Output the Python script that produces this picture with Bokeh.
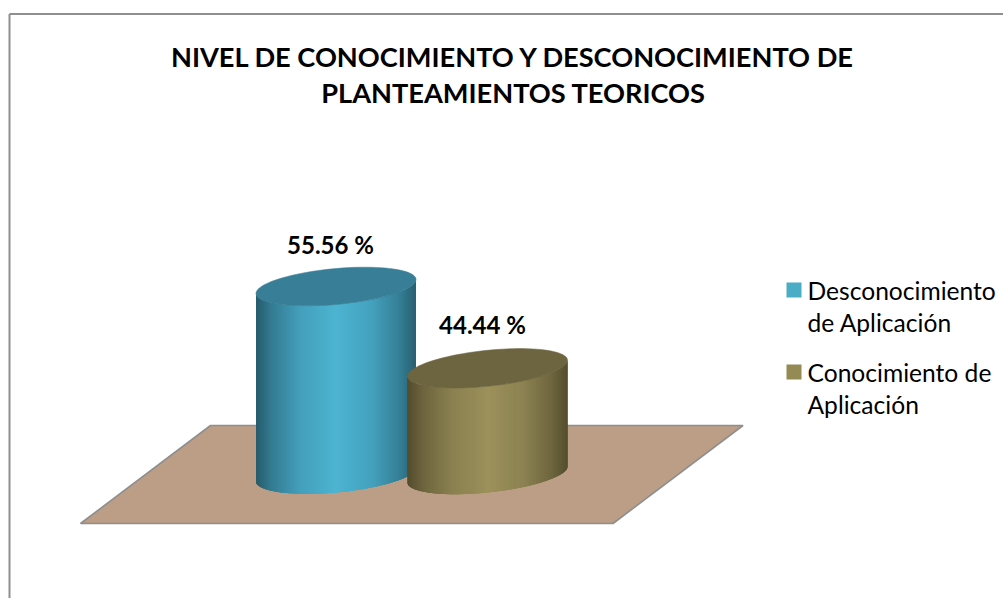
import math
from bokeh.plotting import figure
from bokeh.models import Range1d, ColumnDataSource
from bokeh.core.properties import value
from bokeh.embed import file_html
from bokeh.resources import INLINE

# ---- data ----
categories = ["Desconocimiento de Aplicación", "Conocimiento de Aplicación"]
values = [55.56, 44.44]
title_lines = ["NIVEL DE CONOCIMIENTO Y DESCONOCIMIENTO DE", "PLANTEAMIENTOS TEORICOS"]
legend_lines = [["Desconocimiento", "de Aplicación"], ["Conocimiento de", "Aplicación"]]
axis_min = 30.0

# ---- scale: value axis and category axis, with page pixels as reference ----
PX_BASE = 474.0
PX_PER_UNIT = 188.0 / (values[0] - axis_min)
PX_CAT0 = 335.5
PX_PER_CAT = 151.5

def X(px):
    return (px - PX_CAT0) / PX_PER_CAT

def Y(py):
    return axis_min + (PX_BASE - py) / PX_PER_UNIT

W, H = 1003, 598
p = figure(width=W, height=H, output_backend="svg", toolbar_location=None,
           x_range=Range1d(X(0), X(W)), y_range=Range1d(Y(H), Y(0)),
           min_border=0, outline_line_color=None, background_fill_color="white",
           border_fill_color="white")
p.axis.visible = False
p.grid.visible = False

FONT = "Lato"

# frame
p.line([X(9), X(W)], [Y(13.5), Y(13.5)], line_color="#8f8f8f", line_width=2)
p.line([X(9), X(9)], [Y(13.5), Y(H)], line_color="#8f8f8f", line_width=2)

# floor
p.patch([X(80), X(612.5), X(742.5), X(210)], [Y(523), Y(523), Y(425), Y(425)],
        fill_color="#bb9e85", line_color="#8e8e8e", line_width=1.6)


def lerp_stops(stops, u):
    for (a, ca), (b, cb) in zip(stops, stops[1:]):
        if u <= b:
            f = (u - a) / (b - a) if b > a else 0
            rgb = [round(ca[i] + (cb[i] - ca[i]) * f) for i in range(3)]
            return "#%02x%02x%02x" % tuple(rgb)
    return "#%02x%02x%02x" % tuple(stops[-1][1])


body_stops = [
    [(0.0, (38, 92, 108)), (0.10, (52, 124, 146)), (0.28, (68, 160, 188)), (0.50, (76, 180, 209)),
     (0.72, (68, 162, 190)), (0.90, (52, 126, 148)), (1.0, (40, 96, 113))],
    [(0.0, (84, 77, 46)), (0.10, (110, 101, 62)), (0.28, (138, 128, 80)), (0.50, (156, 145, 90)),
     (0.72, (140, 130, 82)), (0.90, (110, 102, 62)), (1.0, (84, 78, 46))],
]
cap_colors = ["#387e96", "#6c6540"]
legend_colors = ["#4bacc6", "#948a54"]

A = 80.0   # half width, px
B = 18.0   # half depth, px
S = [7.0, 8.0]   # tilt, px
N = 120
OVERLAP = 3


def rim(cx, cy, t, s):
    return cx + A * math.cos(t), cy + B * math.sin(t) - s * math.cos(t)


for i, v in enumerate(values):
    cx = PX_CAT0 + i * PX_PER_CAT
    top = PX_BASE - (v - axis_min) * PX_PER_UNIT
    xs, ys, cols = [], [], []
    for j in range(N):
        t0 = math.pi * (1 - j / N)
        t1 = math.pi * (1 - (j + 1) / N)
        t2 = math.pi * (1 - min(j + OVERLAP, N) / N)
        x0, y0t = rim(cx, top, t0, S[i])
        x1, _ = rim(cx, top, t1, S[i])
        x2, y2t = rim(cx, top, t2, S[i])
        _, y0b = rim(cx, PX_BASE, t0, S[i])
        _, y2b = rim(cx, PX_BASE, t2, S[i])
        xs.append([X(x0), X(x2), X(x2), X(x0)])
        ys.append([Y(y0t), Y(y2t), Y(y2b), Y(y0b)])
        u = (x0 + x1 - 2 * cx + 2 * A) / (4 * A)
        cols.append(lerp_stops(body_stops[i], u))
    src = ColumnDataSource(dict(xs=xs, ys=ys, c=cols))
    p.patches("xs", "ys", source=src, fill_color="c", line_color=None)
    cap = [rim(cx, top, 2 * math.pi * k / 90, S[i]) for k in range(90)]
    p.patch([X(c[0]) for c in cap], [Y(c[1]) for c in cap],
            fill_color=cap_colors[i], line_color=cap_colors[i], line_width=0.5)

# data labels
p.text(x=[X(330), X(482)], y=[Y(v_y) for v_y in (244, 324)],
       text=[f"{v:.2f} %" for v in values], text_font=value(FONT), text_font_style="bold",
       text_font_size="24px", text_color="#000000", text_align="center", text_baseline="middle")

# title
p.text(x=[X(513), X(513)], y=[Y(56), Y(92)], text=title_lines, text_font=value(FONT),
       text_font_style="bold", text_font_size="27.2px", text_color="#000000",
       text_align="center", text_baseline="alphabetic")

# legend
for (sq_y, base0), col, lines in zip([(289.5, 289.5), (371.5, 372)], legend_colors, legend_lines):
    p.patch([X(786), X(801), X(801), X(786)],
            [Y(sq_y - 7.5), Y(sq_y - 7.5), Y(sq_y + 7.5), Y(sq_y + 7.5)],
            fill_color=col, line_color=None)
    p.text(x=[X(807), X(807)], y=[Y(base0), Y(base0 + 32)], text=lines, text_font=value(FONT),
           text_font_size="24.6px", text_color="#000000", text_align="left", text_baseline="alphabetic")

open("out.html", "w").write(file_html(p, INLINE))
